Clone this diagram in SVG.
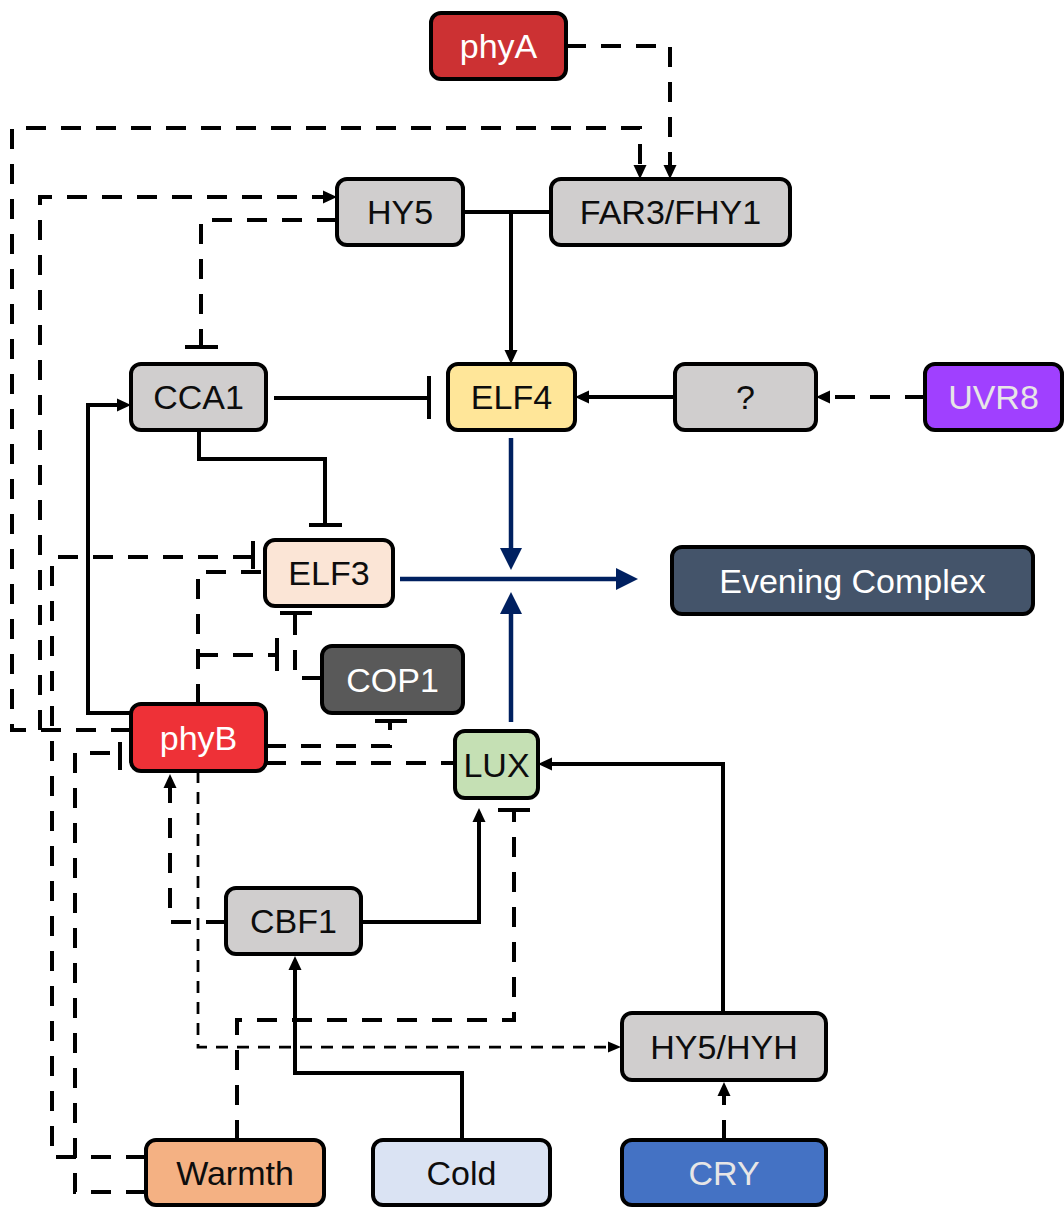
<svg xmlns="http://www.w3.org/2000/svg" width="1064" height="1207" viewBox="0 0 1064 1207">
<style>
.n{stroke:#000;stroke-width:4}
.t{font-family:"Liberation Sans",Arial,sans-serif;font-size:34px;text-anchor:middle}
.dk{fill:#0d0d0d}
.wh{fill:#ffffff}
.lt{fill:#e7e6e6}
.s{fill:none;stroke:#000;stroke-width:4}
.d{fill:none;stroke:#000;stroke-width:4;stroke-dasharray:20 15}
.td{fill:none;stroke:#000;stroke-width:2.75;stroke-dasharray:12 9}
.bar{stroke:#000;stroke-width:4;fill:none}
.nv{fill:none;stroke:#002060;stroke-width:4.5}
</style>
<defs>
<marker id="a" markerUnits="userSpaceOnUse" markerWidth="14" markerHeight="14" refX="9" refY="7" orient="auto"><path d="M0,0.5 L14,7 L0,13.5 z" fill="#000"/></marker>
<marker id="as" markerUnits="userSpaceOnUse" markerWidth="13" markerHeight="12" refX="8" refY="6" orient="auto"><path d="M0,0.5 L13,6 L0,11.5 z" fill="#000"/></marker>
<marker id="an" markerUnits="userSpaceOnUse" markerWidth="22" markerHeight="22" refX="16" refY="11" orient="auto"><path d="M0,0 L22,11 L0,22 z" fill="#002060"/></marker>
</defs>
<g id="connectors">
<path class="s" d="M463,212 H551"/>
<path class="s" d="M511,212 V359" marker-end="url(#a)"/>
<path class="s" d="M274,398 H429"/><path class="bar" d="M429,376 V419"/>
<path class="s" d="M199,430 V459 H325 V525"/><path class="bar" d="M309,525 H342"/>
<path class="s" d="M675,397 H580" marker-end="url(#a)"/>
<path class="s" d="M131,713 H88 V405 H126" marker-end="url(#a)"/>
<path class="s" d="M361,922 H479 V813" marker-end="url(#a)"/>
<path class="s" d="M462,1140 V1073 H295 V961" marker-end="url(#a)"/>
<path class="s" d="M723,1013 V764 H543" marker-end="url(#a)"/>
<path class="d" d="M566,46 H670 V174" marker-end="url(#a)"/>
<path class="d" d="M131,730 H12 V128 H640 V174" marker-end="url(#a)"/>
<path class="d" d="M40,730 V197 H332" marker-end="url(#a)"/>
<path class="d" d="M337,220 H201 V347"/><path class="bar" d="M185,347 H218"/>
<path class="d" d="M925,397 H821" marker-end="url(#a)"/>
<path class="d" d="M146,1157 H52 V557 H253"/><path class="bar" d="M253,541 V569"/>
<path class="d" d="M146,1192 H75 V753 H120"/><path class="bar" d="M120,742 V770"/>
<path class="d" d="M198,704 V572 H265"/>
<path class="d" d="M198,655 H277"/><path class="bar" d="M277,638 V671"/>
<path class="d" d="M322,678 H295 V613"/><path class="bar" d="M280,613 H312"/>
<path class="d" d="M266,746 H390 V721"/><path class="bar" d="M375,721 H407"/>
<path class="d" d="M266,763 H455"/>
<path class="d" d="M226,922 H170 V779" marker-end="url(#a)"/>
<path class="d" d="M237,1140 V1020 H514 V810"/><path class="bar" d="M498,810 H530"/>
<path class="d" d="M724,1140 V1087" marker-end="url(#a)"/>
<path class="td" d="M198,771 V1047 H616" marker-end="url(#as)"/>
<path class="nv" d="M511,438 V564" marker-end="url(#an)"/>
<path class="nv" d="M511,722 V598" marker-end="url(#an)"/>
<path class="nv" d="M400,579 H632" marker-end="url(#an)"/>
</g>
<g id="phyA"><rect class="n" x="431" y="13" width="135" height="66" rx="10" fill="#CC3133"/><text class="t wh" x="498.5" y="58">phyA</text></g>
<g id="HY5"><rect class="n" x="337" y="179" width="126" height="66" rx="10" fill="#D0CECE"/><text class="t dk" x="400" y="224">HY5</text></g>
<g id="FAR3_FHY1"><rect class="n" x="551" y="179" width="239" height="66" rx="10" fill="#D0CECE"/><text class="t dk" x="670.5" y="224">FAR3/FHY1</text></g>
<g id="CCA1"><rect class="n" x="131" y="364" width="135" height="66" rx="10" fill="#D0CECE"/><text class="t dk" x="198.5" y="409">CCA1</text></g>
<g id="ELF4"><rect class="n" x="448" y="364" width="127" height="66" rx="10" fill="#FFE699"/><text class="t dk" x="511.5" y="409">ELF4</text></g>
<g id="unknown"><rect class="n" x="675" y="364" width="141" height="66" rx="10" fill="#D0CECE"/><text class="t dk" x="745.5" y="409">?</text></g>
<g id="UVR8"><rect class="n" x="925" y="364" width="137" height="66" rx="10" fill="#A040FF"/><text class="t lt" x="993.5" y="409">UVR8</text></g>
<g id="ELF3"><rect class="n" x="265" y="540" width="128" height="66" rx="10" fill="#FBE5D6"/><text class="t dk" x="329" y="585">ELF3</text></g>
<g id="EveningComplex"><rect class="n" x="672" y="547" width="361" height="67" rx="10" fill="#44546A"/><text class="t wh" x="852.5" y="592.5">Evening Complex</text></g>
<g id="COP1"><rect class="n" x="322" y="646" width="141" height="67" rx="10" fill="#595959"/><text class="t wh" x="392.5" y="691.5">COP1</text></g>
<g id="phyB"><rect class="n" x="131" y="704" width="135" height="67" rx="10" fill="#EE3137"/><text class="t wh" x="198.5" y="749.5">phyB</text></g>
<g id="LUX"><rect class="n" x="455" y="731" width="83" height="67" rx="10" fill="#C5E0B4"/><text class="t dk" x="496.5" y="776.5">LUX</text></g>
<g id="CBF1"><rect class="n" x="226" y="888" width="135" height="66" rx="10" fill="#D0CECE"/><text class="t dk" x="293.5" y="933">CBF1</text></g>
<g id="HY5_HYH"><rect class="n" x="622" y="1013" width="204" height="67" rx="10" fill="#D0CECE"/><text class="t dk" x="724" y="1058.5">HY5/HYH</text></g>
<g id="Warmth"><rect class="n" x="146" y="1140" width="178" height="65" rx="10" fill="#F4B183"/><text class="t dk" x="235" y="1185">Warmth</text></g>
<g id="Cold"><rect class="n" x="373" y="1140" width="177" height="65" rx="10" fill="#DAE3F3"/><text class="t dk" x="461.5" y="1185">Cold</text></g>
<g id="CRY"><rect class="n" x="622" y="1140" width="204" height="65" rx="10" fill="#4472C4"/><text class="t lt" x="724" y="1185">CRY</text></g>
</svg>
